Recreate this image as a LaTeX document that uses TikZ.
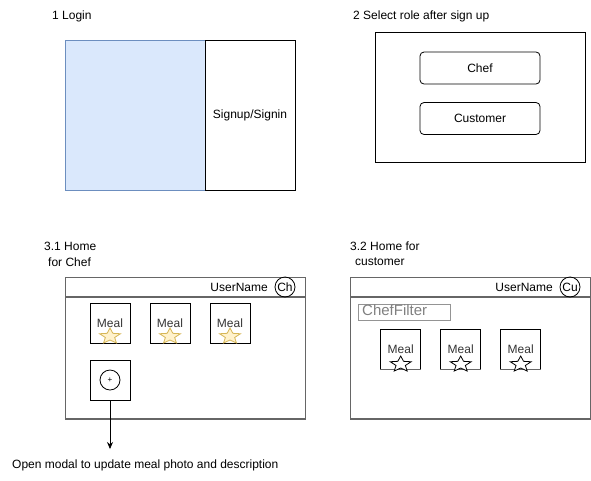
\documentclass[tikz,border=0pt]{standalone}
\usepackage{fontspec}
\setmainfont{Liberation Sans}
\usetikzlibrary{shapes.geometric,arrows.meta}
\definecolor{bluefill}{HTML}{DAE8FC}
\definecolor{bluedraw}{HTML}{6C8EBF}
\definecolor{starfill}{HTML}{FFF2CC}
\definecolor{stardraw}{HTML}{D6B656}
\definecolor{framegray}{HTML}{666666}
\definecolor{textgray}{HTML}{333333}
\tikzset{
  lbl/.style={font=\fontsize{12}{14}\selectfont, inner sep=0pt, anchor=west},
  txt/.style={font=\fontsize{12}{14}\selectfont, inner sep=0pt},
  box/.style={draw=black, line width=0.8pt, inner sep=0pt},
  rbtn/.style={draw=black, line width=0.8pt, rounded corners=4pt, minimum width=120pt, minimum height=32pt, inner sep=0pt, font=\fontsize{12}{14}\selectfont},
  meal/.style={draw=black, line width=0.8pt, minimum width=40pt, minimum height=40pt, inner sep=0pt},
  ystar/.style={draw=stardraw, fill=starfill, line width=0.8pt, line join=miter},
  wstar/.style={draw=black, fill=white, line width=0.8pt, line join=miter},
  avatar/.style={circle, draw=black, line width=0.8pt, minimum size=20pt, inner sep=0pt, font=\fontsize{12}{14}\selectfont},
  frame/.style={draw=framegray, line width=1pt},
  sep/.style={draw=framegray, line width=1.6pt},
}
\newcommand{\flatstar}[3]{%
  \draw[#1, shift={(#2,#3)}, yscale=0.754] plot[samples at={0,...,9}, variable=\k]
    ({(mod(\k,2)==0 ? 11 : 4.9)*cos(90+36*\k)}, {-(mod(\k,2)==0 ? 11 : 4.9)*sin(90+36*\k)}) -- cycle;}
\begin{document}
\begin{tikzpicture}[x=1pt,y=-1pt]
\useasboundingbox (0,0) rectangle (591,480);
% 1 Login
\node[lbl] (t1) at (52,16) {1 Login};
\draw[draw=bluedraw, fill=bluefill, line width=0.8pt] (65,40) rectangle (205,190);
\node[box, minimum width=90pt, minimum height=150pt, txt] (sign) at (250,115) {Signup/Signin};
% 2 Select role
\node[lbl] (t2) at (353,16) {2 Select role after sign up};
\node[box, minimum width=210pt, minimum height=130pt] (role) at (480,97) {};
\node[rbtn] (chef) at (480,68) {Chef};
\node[rbtn] (cust) at (480,118.5) {Customer};
% 3.1 Home for Chef
\node[lbl] (t31a) at (44,246) {3.1 Home};
\node[lbl] (t31b) at (48,262) {for Chef};
\draw[frame] (65,277) rectangle (305,419);
\draw[sep] (65,297) -- (305,297);
\draw[sep] (65,419) -- (305,419);
\node[txt, anchor=east] (un1) at (268,287) {UserName};
\node[avatar] (ch) at (285,287) {Ch};
\foreach \i/\x in {1/110,2/170,3/230}{
  \node[meal] (cm\i) at (\x,323) {};
  \node[txt, text=textgray] (cml\i) at (\x,323) {Meal};
  \flatstar{ystar}{\x}{336.3}
}
\node[meal] (plus) at (110,380) {};
\node[circle, draw=black, line width=0.8pt, minimum size=20pt, inner sep=0pt, font=\fontsize{8}{9}\selectfont] (pc) at (110,380) {+};
\coordinate (modal) at (110,449);
\draw[line width=0.8pt, -{Stealth[length=7pt,width=6pt]}] (plus.south) -- (modal);
\node[lbl] (mt) at (12,465) {Open modal to update meal photo and description};
% 3.2 Home for customer
\node[lbl] (t32a) at (350,246) {3.2 Home for};
\node[lbl] (t32b) at (355,262) {customer};
\draw[frame] (350,277) rectangle (590,419);
\draw[sep] (350,297) -- (590,297);
\draw[sep] (350,419) -- (590,419);
\node[txt, anchor=east] (un2) at (553,287) {UserName};
\node[avatar] (cu) at (570,287) {Cu};
\node[draw=framegray!70, line width=1pt, minimum width=92pt, minimum height=16pt, inner sep=0pt] (filt) at (404,312) {};
\node[font=\fontsize{15}{16}\selectfont, text=gray, inner sep=0pt, anchor=west] (filtt) at (362,310) {ChefFilter};
\foreach \i/\x in {1/400.7,2/460.7,3/520.7}{
  \node[meal] (um\i) at (\x,349) {};
  \draw[framegray, line width=1.4pt] (um\i.south west) -- (um\i.south east);
  \node[txt, text=textgray] (uml\i) at (\x,349) {Meal};
  \flatstar{wstar}{\x}{364.3}
}
\end{tikzpicture}
\end{document}
